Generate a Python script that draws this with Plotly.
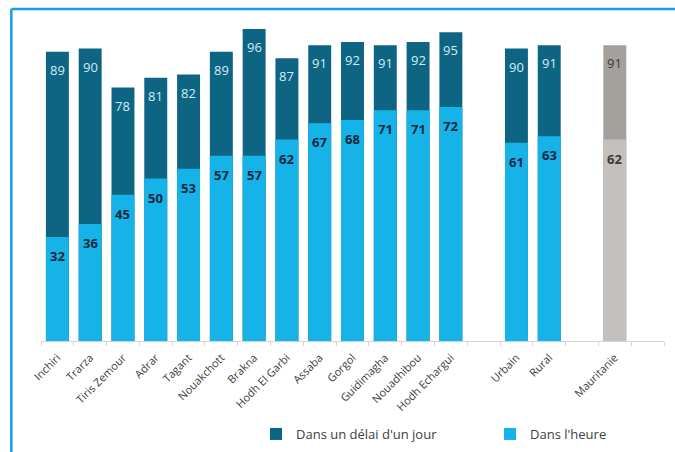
import plotly.graph_objects as go

# Régions, milieu de résidence et ensemble du pays
regions = ["Inchiri", "Trarza", "Tiris Zemour", "Adrar", "Tagant", "Nouakchott",
           "Brakna", "Hodh El Garbi", "Assaba", "Gorgol", "Guidimagha",
           "Nouadhibou", "Hodh Echargui"]
regions_heure = [32, 36, 45, 50, 53, 57, 57, 62, 67, 68, 71, 71, 72]
regions_jour = [89, 90, 78, 81, 82, 89, 96, 87, 91, 92, 91, 92, 95]

milieux = ["Urbain", "Rural"]
milieux_heure = [61, 63]
milieux_jour = [90, 91]

pays = ["Mauritanie"]
pays_heure = [62]
pays_jour = [91]

DARK = "#0d6583"
LIGHT = "#16b3e8"
GREY_DARK = "#a4a09c"
GREY_LIGHT = "#c3c0be"

# One empty slot separates each group on the category axis
groups = [(regions, regions_heure, regions_jour, False),
          (milieux, milieux_heure, milieux_jour, False),
          (pays, pays_heure, pays_jour, True)]

xs, labels, heure, jour, c_dark, c_light, national = [], [], [], [], [], [], []
pos = 0
for names, h, j, is_nat in groups:
    for n, vh, vj in zip(names, h, j):
        xs.append(pos)
        labels.append(n)
        heure.append(vh)
        jour.append(vj)
        c_dark.append(GREY_DARK if is_nat else DARK)
        c_light.append(GREY_LIGHT if is_nat else LIGHT)
        national.append(is_nat)
        pos += 1
    pos += 1
n_slots = pos - 1

fig = go.Figure()
fig.add_trace(go.Bar(x=xs, y=jour, name="Dans un délai d'un jour",
                     marker=dict(color=c_dark, line=dict(width=0)),
                     hoverinfo="skip", legend="legend", showlegend=True))
fig.add_trace(go.Bar(x=xs, y=heure, name="Dans l'heure",
                     marker=dict(color=c_light, line=dict(width=0)),
                     hoverinfo="skip", legend="legend2", showlegend=True))

annotations = []
for x, vh, vj, nat in zip(xs, heure, jour, national):
    annotations.append(dict(x=x, y=vj, text=str(vj), showarrow=False,
                            yanchor="middle", yshift=-18,
                            font=dict(family="Open Sans", size=13,
                                      color="#3a3a3a" if nat else "#d4ecf4")))
    annotations.append(dict(x=x, y=vh, text=f"<b>{vh}</b>", showarrow=False,
                            yanchor="middle", yshift=-19,
                            font=dict(family="Open Sans", size=13,
                                      color="#3a3a3a" if nat else "#14283a")))

# Frame lines on the top and left edges of the figure
L, T, R, B = 40.7, 16.0, 10.7, 111.0
W, H = 675 - L - R, 452 - T - B
px_x = lambda p: (p - L) / W
px_y = lambda p: (452 - B - p) / H
frame = dict(color="#159fe3", width=2.5)
shapes = [
    dict(type="line", xref="paper", yref="paper", x0=px_x(11), x1=px_x(11),
         y0=px_y(9), y1=px_y(460), line=frame),
    dict(type="line", xref="paper", yref="paper", x0=px_x(11), x1=px_x(680),
         y0=px_y(9), y1=px_y(9), line=frame),
]

legend_style = dict(orientation="h", xanchor="left", yanchor="middle",
                    xref="container", yref="container",
                    font=dict(size=13, color="#404040"),
                    itemclick=False, itemdoubleclick=False,
                    bgcolor="rgba(0,0,0,0)")

fig.update_layout(
    width=675, height=452,
    margin=dict(l=L, r=R, t=T, b=B, autoexpand=False),
    barmode="overlay", bargap=0.3,
    plot_bgcolor="white", paper_bgcolor="white",
    font=dict(family="Open Sans", color="#404040"),
    annotations=annotations, shapes=shapes,
    showlegend=True,
    legend=dict(x=256 / 675, y=1 - 434 / 452, **legend_style),
    legend2=dict(x=490 / 675, y=1 - 434 / 452, **legend_style),
    xaxis=dict(range=[-0.5, n_slots + 0.5], tickmode="array",
               tickvals=xs, ticktext=labels, tickangle=-45,
               tickfont=dict(size=11, color="#404040"),
               ticklabelstandoff=5,
               ticks="", showgrid=False, zeroline=False,
               showline=True, linecolor="#d4d4d4", linewidth=1,
               minor=dict(tick0=0.5, dtick=1, ticks="outside", ticklen=4,
                          tickcolor="#d4d4d4", showgrid=False)),
    yaxis=dict(range=[0, 100], visible=False, showgrid=False),
)

fig.write_html("out.html")
